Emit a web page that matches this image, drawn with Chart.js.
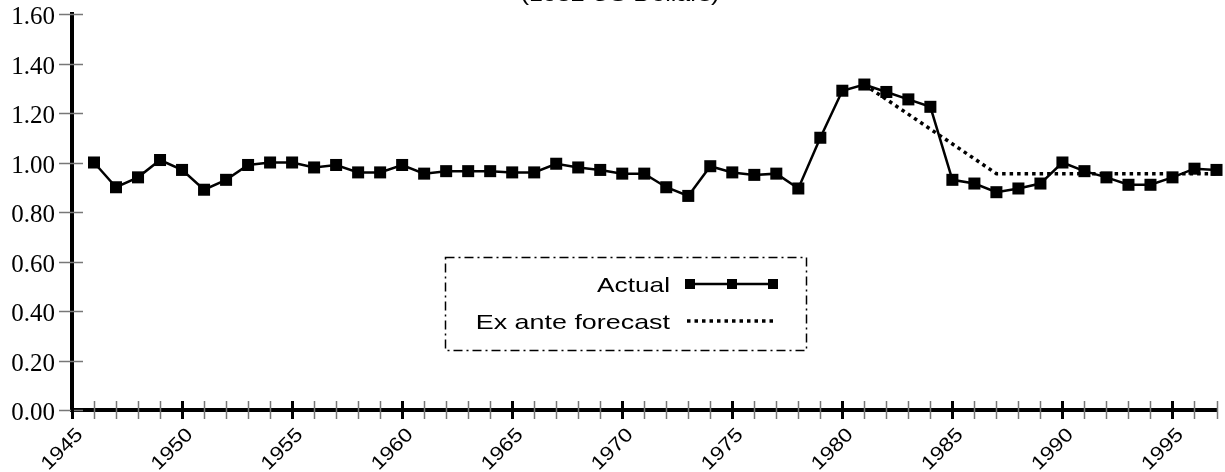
<!DOCTYPE html>
<html>
<head>
<meta charset="utf-8">
<script src="https://cdn.jsdelivr.net/npm/chart.js@4.4.1/dist/chart.umd.min.js"></script>
<style>
html, body { margin: 0; padding: 0; background: #fff; }
#wrap { width: 1225px; height: 472px; }
</style>
</head>
<body>
<div id="wrap"><canvas id="myChart" width="1225" height="472"></canvas></div>
<script>
// data
const years = [1946, 1947, 1948, 1949, 1950, 1951, 1952, 1953, 1954, 1955,
  1956, 1957, 1958, 1959, 1960, 1961, 1962, 1963, 1964, 1965,
  1966, 1967, 1968, 1969, 1970, 1971, 1972, 1973, 1974, 1975,
  1976, 1977, 1978, 1979, 1980, 1981, 1982, 1983, 1984, 1985,
  1986, 1987, 1988, 1989, 1990, 1991, 1992, 1993, 1994, 1995,
  1996, 1997];
const actual = [1.00, 0.90, 0.94, 1.01, 0.97, 0.89, 0.93, 0.99, 1.00, 1.00,
  0.98, 0.99, 0.96, 0.96, 0.99, 0.955, 0.965, 0.965, 0.965, 0.96,
  0.96, 0.995, 0.98, 0.97, 0.955, 0.955, 0.90, 0.865, 0.985, 0.96,
  0.95, 0.955, 0.895, 1.10, 1.29, 1.315, 1.285, 1.255, 1.225, 0.93,
  0.915, 0.88, 0.895, 0.915, 1.00, 0.965, 0.94, 0.91, 0.91, 0.94,
  0.975, 0.97];
// forecast only exists from 1981 on, straight line to 1987 then flat
const forecast = [null, null, null, null, null, null, null, null, null, null,
  null, null, null, null, null, null, null, null, null, null,
  null, null, null, null, null, null, null, null, null, null,
  null, null, null, null, null, 1.315, null, null, null, null,
  null, 0.955, 0.955, 0.955, 0.955, 0.955, 0.955, 0.955, 0.955, 0.955,
  0.955, 0.955];
const yTickLabels = ['0.00', '0.20', '0.40', '0.60', '0.80', '1.00', '1.20', '1.40', '1.60'];
const xTickYears = [1945, 1950, 1955, 1960, 1965, 1970, 1975, 1980, 1985, 1990, 1995];
const titleText = '(1982 US Dollars)';
const seriesNames = ['Actual', 'Ex ante forecast'];

const SANS = '"Liberation Sans", Arial, sans-serif';
const SERIF = '"Liberation Serif", "Times New Roman", serif';

// draw text squeezed or stretched along x
function drawText(ctx, text, x, y, sx, align, font) {
    ctx.save();
    ctx.translate(x, y);
    ctx.scale(sx, 1);
    ctx.font = font;
    ctx.textAlign = align;
    ctx.textBaseline = 'alphabetic';
    ctx.fillText(text, 0, 0);
    ctx.restore();
}

const decorPlugin = {
    id: 'decor',
    afterDraw(chart) {
        const ctx = chart.ctx;
        const xs = chart.scales.x;
        const ys = chart.scales.y;
        const area = chart.chartArea;
        ctx.save();
        ctx.fillStyle = '#000';

        // title, mostly cut off at the top edge
        drawText(ctx, titleText, 620, 1, 1.25, 'center', '20px ' + SANS);

        // y ticks + labels
        yTickLabels.forEach(function(lbl) {
            const py = Math.round(ys.getPixelForValue(parseFloat(lbl))) + 0.5;
            ctx.strokeStyle = '#777';
            ctx.lineWidth = 1.5;
            ctx.beginPath();
            ctx.moveTo(area.left - 13, py);
            ctx.lineTo(area.left + 11, py);
            ctx.stroke();
            drawText(ctx, lbl, area.left - 17, py + 9, 1.0, 'right', '25px ' + SERIF);
        });

        // x ticks: minor every year, major every 5
        const axisY = area.bottom;
        for (let yr = xs.min; yr <= xs.max; yr++) {
            const px = Math.round(xs.getPixelForValue(yr)) + 0.5;
            const major = xTickYears.indexOf(yr) >= 0;
            ctx.strokeStyle = major ? '#000' : '#777';
            ctx.lineWidth = major ? 3 : 1.5;
            ctx.beginPath();
            ctx.moveTo(px, axisY - 9);
            ctx.lineTo(px, axisY + 9);
            ctx.stroke();
        }

        // rotated year labels
        xTickYears.forEach(function(yr) {
            const px = xs.getPixelForValue(yr);
            ctx.save();
            ctx.translate(px + 8, axisY + 22);
            ctx.rotate(-Math.PI / 4);
            ctx.scale(1.15, 1);
            ctx.font = '19.5px ' + SANS;
            ctx.textAlign = 'right';
            ctx.textBaseline = 'middle';
            ctx.fillText(String(yr), 0, 0);
            ctx.restore();
        });

        // legend box
        ctx.strokeStyle = '#000';
        ctx.lineWidth = 1.5;
        ctx.setLineDash([9, 4, 2, 4]);
        ctx.strokeRect(445.5, 257.5, 361, 93);
        ctx.setLineDash([]);

        drawText(ctx, chart.data.datasets[0].label, 670, 292, 1.25, 'right', '21px ' + SANS);
        drawText(ctx, chart.data.datasets[1].label, 670, 329, 1.28, 'right', '21px ' + SANS);

        ctx.lineWidth = 2.5;
        ctx.beginPath();
        ctx.moveTo(688, 284);
        ctx.lineTo(774, 284);
        ctx.stroke();
        [690, 732, 773].forEach(function(sx) {
            ctx.fillRect(sx - 5, 279, 10, 10);
        });

        ctx.lineWidth = 3.5;
        ctx.setLineDash([3.5, 4]);
        ctx.beginPath();
        ctx.moveTo(687, 321);
        ctx.lineTo(776, 321);
        ctx.stroke();
        ctx.restore();
    }
};

const ctx = document.getElementById('myChart').getContext('2d');
const myChart = new Chart(ctx, {
    type: 'line',
    data: {
        datasets: [{
            label: seriesNames[0],
            data: years.map((yr, i) => ({ x: yr, y: actual[i] })),
            borderColor: '#000',
            backgroundColor: '#000',
            borderWidth: 2.5,
            pointStyle: 'rect',
            pointRadius: 8.5,
            pointBorderWidth: 0,
            pointBackgroundColor: '#000',
            clip: false,
            order: 1
        }, {
            label: seriesNames[1],
            data: years.map((yr, i) => ({ x: yr, y: forecast[i] })),
            borderColor: '#000',
            borderWidth: 3.5,
            borderDash: [3.5, 4],
            pointRadius: 0,
            spanGaps: true,
            clip: false,
            order: 2
        }]
    },
    options: {
        responsive: false,
        animation: false,
        devicePixelRatio: 1,
        layout: { padding: { left: 72, right: 7, top: 14, bottom: 62 } },
        plugins: {
            legend: { display: false },
            tooltip: { enabled: false },
            title: { display: false }
        },
        scales: {
            x: {
                type: 'linear',
                min: 1945,
                max: 1997,
                ticks: { display: false },
                grid: { display: false, drawTicks: false, tickLength: 0 },
                border: { display: true, color: '#000', width: 4 }
            },
            y: {
                min: 0,
                max: 1.6,
                ticks: { display: false },
                grid: { display: false, drawTicks: false, tickLength: 0 },
                border: { display: true, color: '#000', width: 4 }
            }
        }
    },
    plugins: [decorPlugin]
});
</script>
</body>
</html>
